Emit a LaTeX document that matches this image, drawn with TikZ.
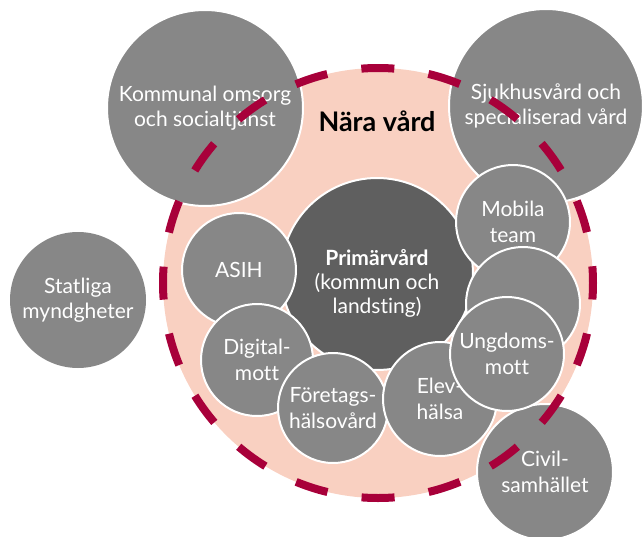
\documentclass[tikz,border=0pt]{standalone}
\usepackage{fontspec}
\setmainfont{Lato}[Ligatures=NoCommon]
\definecolor{narapink}{HTML}{F9D0C1}
\definecolor{bubblegray}{HTML}{878787}
\definecolor{coregray}{HTML}{5F5F5F}
\definecolor{ringred}{HTML}{A8003A}

\begin{document}
\begin{tikzpicture}[x=1pt, y=-1pt,
    bubble/.style={circle, fill=bubblegray, draw=white, line width=2pt,
        text=white, align=center, inner sep=0pt, minimum size=#1,
        font=\fontsize{21}{25.5}\selectfont},
    bubble/.default=114pt,
    ring/.style={draw=ringred, line width=8pt,
        dash pattern=on 33pt off 34.54pt, dash phase=16.5pt}]
    \useasboundingbox (0,0) rectangle (643,536);
    % the pink area
    \node[circle, fill=narapink, minimum size=430pt, inner sep=0pt] (nara) at (378,283) {};
    % outer actors
    \node[bubble=196pt] (kommunal) at (205,108) {Kommunal omsorg\\och socialtjänst};
    \node[bubble=194pt] (sjukhus) at (546,106) {Sjukhusvård och\\specialiserad vård};
    \node[bubble=136pt] (civil) at (545,472) {Civil-\\samhället};
    \node[bubble=136pt, draw=none] (statliga) at (78,300) {Statliga\\myndgheter};
    % dashed border of Nära vård
    \draw[ring] (nara.center) circle[radius=215];
    \node[font=\fontsize{27}{32}\selectfont\bfseries] (title) at (377,121) {Nära vård};
    % primary care and the services round it
    \node[bubble=192pt, fill=coregray] (prim) at (377,274) {};
    \node[text=white, align=center, font=\fontsize{21}{24}\selectfont]
        (primtext) at ([yshift=-9pt]prim.center)
        {\textbf{Primärvård}\\(kommun och\\landsting)};
    \node[bubble] (asih) at (239,270) {ASIH};
    \node[bubble=112pt] (digital) at (257,360) {Digital-\\mott};
    \node[bubble=110pt] (foretag) at (333,408) {Företags-\\hälsovård};
    \node[bubble] (elev) at (440,399) {Elev-\\hälsa};
    \node[bubble] (mobila) at (513,222) {Mobila\\team};
    \node[bubble] (tom) at (523,304) {};
    \node[bubble] (ungdom) at (507,354) {Ungdoms-\\mott};
\end{tikzpicture}
\end{document}
